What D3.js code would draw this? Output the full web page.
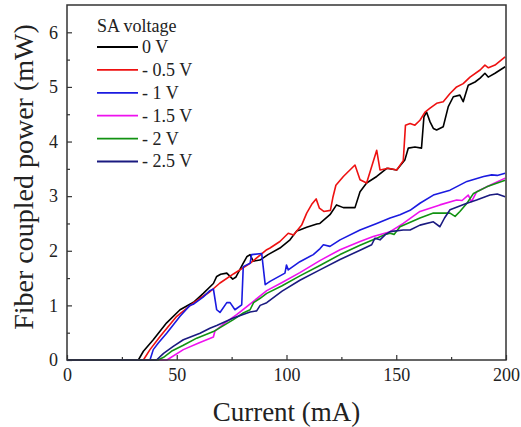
<!DOCTYPE html>
<html>
<head>
<meta charset="utf-8">
<script src="https://cdn.jsdelivr.net/npm/d3@7"></script>
</head>
<body style="margin:0; background:#fff">
<svg width="521" height="427"></svg>
<script>
// Series data [current mA, power mW]
const v0 = [[0,0],[32.5,0],[34.8,0.16],[39.3,0.37],[45.4,0.68],[51.5,0.92],[56.8,1.04],[58,1.07],[62.1,1.22],[66.7,1.40],[68.2,1.53],[70,1.57],[72.8,1.59],[75.5,1.48],[77,1.52],[80,1.75],[81.9,1.89],[83.4,1.93],[84.8,1.81],[87.9,1.83],[91.6,1.93],[97,2.05],[101.6,2.2],[104.6,2.36],[106,2.38],[109.2,2.43],[113.8,2.49],[115.2,2.5],[119.8,2.66],[122.8,2.84],[125.9,2.79],[131.2,2.79],[133.5,3.08],[136.5,3.24],[141.1,3.36],[145.7,3.51],[150.2,3.48],[153.9,3.66],[155.5,3.88],[158.5,3.9],[161.5,3.88],[162.6,4.45],[163.8,4.54],[165.4,4.36],[166.9,4.24],[168.4,4.21],[171.4,4.27],[173.7,4.64],[176,4.82],[179,4.85],[180.5,4.73],[182.8,5.03],[185.9,5.09],[188.2,5.16],[190.4,5.25],[191.9,5.18],[195,5.25],[199.6,5.37]];
const v05 = [[0,0],[34.8,0],[37.8,0.19],[42.4,0.43],[50,0.8],[57.5,1.04],[60.6,1.13],[65.1,1.25],[69.7,1.41],[76,1.58],[83.4,1.77],[91,2.02],[92.5,2.05],[97,2.17],[100.8,2.32],[103.2,2.29],[106.9,2.47],[109.2,2.69],[111.5,2.85],[113.5,2.95],[115,2.78],[117,2.72],[120,2.74],[121.2,2.99],[122.5,3.2],[125.9,3.36],[131.2,3.57],[133.5,3.3],[136.5,3.24],[141.1,3.84],[142.6,3.48],[146.4,3.51],[150.2,3.48],[153.2,3.65],[154.2,4.3],[156.3,4.33],[158.5,4.3],[160.8,4.39],[163.1,4.54],[165.4,4.61],[168.4,4.70],[171.4,4.73],[174.5,4.88],[177.5,5.0],[180.5,5.06],[183.6,5.18],[188.2,5.31],[190.4,5.40],[192,5.35],[195,5.40],[199.6,5.55]];
const v1 = [[0,0],[37.8,0],[39.3,0.19],[41.6,0.31],[45.4,0.49],[51.5,0.8],[56,1.0],[57.5,1.02],[62,1.15],[65.1,1.27],[66.7,1.30],[68.2,0.92],[69.7,0.87],[72.8,1.05],[74.3,1.05],[76.5,0.92],[79.6,1.01],[80.3,1.71],[83.4,1.77],[84.1,1.93],[88.7,1.95],[90.3,1.38],[92.5,1.44],[99.3,1.59],[100,1.74],[100.8,1.65],[106.1,1.8],[112.2,1.93],[115.3,2.04],[116.8,2.11],[119.8,2.08],[124.4,2.2],[133.5,2.38],[141.1,2.5],[147.2,2.6],[151.7,2.66],[156.3,2.74],[160.8,2.87],[166.9,3.02],[174.5,3.11],[182.2,3.27],[189.8,3.36],[193.5,3.39],[196,3.38],[199.6,3.42]];
const v15 = [[0,0],[45.5,0],[53,0.19],[60,0.31],[66.7,0.42],[67.4,0.53],[72,0.68],[77.3,0.83],[84.8,1.07],[91,1.27],[98,1.42],[106.1,1.6],[115.2,1.82],[124.4,2.02],[133.5,2.17],[139.5,2.26],[147.2,2.35],[153.2,2.5],[160.8,2.72],[169.9,2.84],[177.5,2.93],[180,2.92],[182.8,3.02],[184.3,2.9],[186.6,3.08],[192.7,3.2],[199.6,3.33]];
const v2 = [[0,0],[41.5,0],[44,0.05],[48,0.17],[53,0.27],[59.1,0.40],[66.7,0.52],[75.8,0.74],[80.3,0.86],[83.4,0.92],[85,1.05],[88,1.13],[91,1.22],[98,1.36],[106.1,1.54],[115.2,1.73],[124.4,1.93],[133.5,2.1],[141.1,2.23],[145,2.3],[147.2,2.32],[149,2.3],[151.7,2.44],[160.8,2.6],[166.9,2.69],[174.5,2.69],[176.8,2.63],[179,2.72],[182.2,2.87],[185.2,3.05],[191.2,3.17],[199.6,3.29]];
const v25 = [[0,0],[40.8,0],[44,0.12],[48.4,0.25],[53,0.37],[60.6,0.49],[65.1,0.58],[68.2,0.63],[75.8,0.77],[83.4,0.88],[86.4,0.9],[88,1.0],[91,1.05],[98,1.26],[106.1,1.46],[115.2,1.65],[124.4,1.84],[133.5,2.01],[138.8,2.11],[140.3,2.23],[142.6,2.2],[144.9,2.29],[147.2,2.35],[153.2,2.38],[156.3,2.38],[160.8,2.47],[166.9,2.53],[169.9,2.44],[172,2.6],[174.5,2.75],[182.2,2.87],[186.6,2.93],[192.7,3.02],[196,3.04],[199.6,2.99]];

const labels = ["0 V", "- 0.5 V", "- 1 V", "- 1.5 V", "- 2 V", "- 2.5 V"];
const colors = ["#000000", "#ee1111", "#1a1ae0", "#ee11ee", "#129212", "#1a1a80"];
const series = [v0, v05, v1, v15, v2, v25];
const xTicks = [0, 50, 100, 150, 200];
const yTicks = [0, 1, 2, 3, 4, 5, 6];

const FONT = "'Liberation Serif'";

// Layout
const margin = { top: 5, right: 15, bottom: 67, left: 67 },
    width = 521 - margin.left - margin.right,
    height = 427 - margin.top - margin.bottom;

const svg = d3.select("svg");
const g = svg.append("g")
    .attr("transform", "translate(" + margin.left + "," + margin.top + ")");

// Scales
const x = d3.scaleLinear().domain([0, 200]).range([0, width]);
const y = d3.scaleLinear().domain([0, 6.5]).range([height, 0]);

// Minor ticks
g.append("g")
    .attr("transform", "translate(0," + height + ")")
    .call(d3.axisBottom(x).tickValues([25, 75, 125, 175]).tickSize(-3).tickFormat(""))
    .call(a => a.select(".domain").remove());
g.append("g")
    .call(d3.axisLeft(y).tickValues(d3.range(0.5, 6.5, 1)).tickSize(-3).tickFormat(""))
    .call(a => a.select(".domain").remove());

// Major axes
const xAxis = g.append("g")
    .attr("transform", "translate(0," + height + ")")
    .call(d3.axisBottom(x).tickValues(xTicks).tickSize(-5).tickPadding(8).tickFormat(d3.format("d")));
const yAxis = g.append("g")
    .call(d3.axisLeft(y).tickValues(yTicks).tickSize(-5).tickPadding(9).tickFormat(d3.format("d")));
[xAxis, yAxis].forEach(a => {
    a.select(".domain").remove();
    a.selectAll("text").attr("fill", "#222")
        .style("font-family", FONT).style("font-size", "18px");
});
g.selectAll(".tick line").attr("stroke", "#333").attr("stroke-width", 1.2);

// Lines
const line = d3.line().x(d => x(d[0])).y(d => y(d[1]));
g.selectAll(".series")
    .data(series)
    .enter()
    .append("path")
    .attr("class", "series")
    .attr("d", line)
    .attr("fill", "none")
    .attr("stroke", (d, i) => colors[i])
    .attr("stroke-width", 1.6)
    .attr("stroke-linejoin", "round");

// Frame
g.append("rect")
    .attr("width", width).attr("height", height)
    .attr("fill", "none").attr("stroke", "#333").attr("stroke-width", 1.5);

// Legend
const legend = g.append("g").attr("transform", "translate(" + (97 - margin.left) + "," + (47 - margin.top) + ")");
legend.append("text").attr("x", 0).attr("y", -21).attr("dy", "0.33em")
    .style("font-family", FONT).style("font-size", "18px").attr("fill", "#222")
    .text("SA voltage");
labels.forEach((lab, i) => {
    const row = legend.append("g").attr("transform", "translate(0," + (i * 22.9) + ")");
    row.append("line").attr("x1", 0).attr("x2", 41).attr("y1", 0).attr("y2", 0)
        .attr("stroke", colors[i]).attr("stroke-width", 1.8);
    row.append("text").attr("x", 45).attr("y", 0).attr("dy", "0.33em")
        .style("font-family", FONT).style("font-size", "18px").attr("fill", "#222")
        .text(lab);
});

// Axis titles
svg.append("text")
    .attr("x", margin.left + width / 2).attr("y", 421)
    .attr("text-anchor", "middle").attr("fill", "#222")
    .style("font-family", FONT).style("font-size", "27px")
    .text("Current (mA)");
svg.append("text")
    .attr("transform", "translate(33,177) rotate(-90)")
    .attr("text-anchor", "middle").attr("fill", "#222")
    .style("font-family", FONT).style("font-size", "28px")
    .text("Fiber coupled power (mW)");
</script>
</body>
</html>
